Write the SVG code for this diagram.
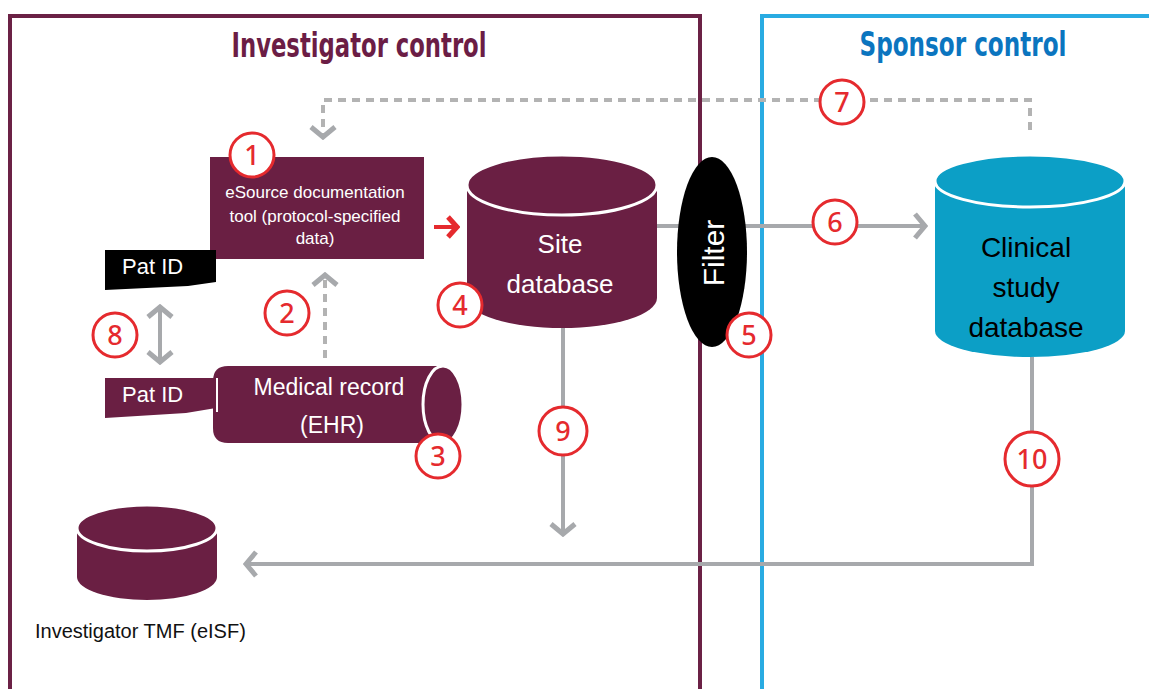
<svg xmlns="http://www.w3.org/2000/svg" width="1149" height="689" viewBox="0 0 1149 689">
<defs>
<style>
.plum{fill:#6a1f43}
.wtxt{fill:#ffffff;font-family:"Liberation Sans",Arial,sans-serif}
.conn{fill:none;stroke:#a7a9ac;stroke-width:4}
.dash{fill:none;stroke:#b3b3b3;stroke-width:4;stroke-dasharray:8 6}
.badge circle{fill:#ffffff;stroke:#e52a2e;stroke-width:3}
.badge text{fill:#e52a2e;font-family:"Noto Sans","DejaVu Sans",sans-serif;font-size:27px;font-weight:500;text-anchor:middle}
.title{font-family:"Liberation Sans Narrow","DejaVu Sans Condensed","Liberation Sans",sans-serif;font-weight:bold;font-size:34px;text-anchor:middle}
</style>
<marker id="chev" viewBox="-14 -14 16 28" markerWidth="16" markerHeight="28" refX="0" refY="0" orient="auto-start-reverse" markerUnits="userSpaceOnUse">
<path d="M-11,-12 L-1,0 L-11,12" fill="none" stroke="#a7a9ac" stroke-width="5" stroke-dasharray="none"/>
</marker>
<marker id="chevred" viewBox="-14 -14 16 28" markerWidth="16" markerHeight="28" refX="0" refY="0" orient="auto" markerUnits="userSpaceOnUse">
<path d="M-10,-10 L-1,0 L-10,10" fill="none" stroke="#e52a2e" stroke-width="5"/>
</marker>
</defs>
<rect width="1149" height="689" fill="#ffffff"/>

<g id="investigator-control">
<rect x="10" y="16" width="690" height="690" fill="none" stroke="#6b2145" stroke-width="4"/>
<text class="title" x="359" y="57" fill="#6b1d45" textLength="255" lengthAdjust="spacingAndGlyphs">Investigator control</text>
</g>
<g id="sponsor-control">
<rect x="762" y="16" width="420" height="690" fill="none" stroke="#29abe2" stroke-width="4"/>
<text class="title" x="963" y="56" fill="#0b75bf" textLength="207" lengthAdjust="spacingAndGlyphs">Sponsor control</text>
</g>

<g id="connectors">
<path class="dash" d="M1030,130 V100 H323 V138" marker-end="url(#chev)"/>
<path class="dash" d="M325,358 V274" marker-end="url(#chev)"/>
<path class="conn" d="M657,226 H926" marker-end="url(#chev)"/>
<path class="conn" d="M563,328 V535" marker-end="url(#chev)"/>
<path class="conn" d="M1032,357 V564 H245" marker-end="url(#chev)"/>
<path class="conn" d="M160,306 V363" marker-start="url(#chev)" marker-end="url(#chev)"/>
<path d="M434,227 H458" fill="none" stroke="#e52a2e" stroke-width="4" marker-end="url(#chevred)"/>
</g>

<g id="esource">
<rect class="plum" x="210" y="157" width="214" height="102"/>
<text class="wtxt" font-size="17" text-anchor="middle"><tspan x="315" y="198">eSource documentation</tspan><tspan x="315" y="222">tool (protocol-specified</tspan><tspan x="315" y="244">data)</tspan></text>
</g>

<g id="site-database">
<path class="plum" d="M467,185 V298 A95,30 0 0 0 657,298 V185 Z"/>
<ellipse class="plum" cx="562" cy="185" rx="95" ry="30" stroke="#ffffff" stroke-width="3"/>
<text class="wtxt" font-size="26" text-anchor="middle"><tspan x="560" y="253">Site</tspan><tspan x="560" y="293">database</tspan></text>
</g>

<g id="filter">
<ellipse cx="712" cy="252" rx="35" ry="95" fill="#000000"/>
<text class="wtxt" font-size="30" text-anchor="middle" transform="translate(724,253) rotate(-90)" x="0" y="0">Filter</text>
</g>

<g id="clinical-database">
<path d="M935,181 V331 A95,26 0 0 0 1125,331 V181 Z" fill="#0c9fc6"/>
<ellipse cx="1030" cy="181" rx="95" ry="26" fill="#0c9fc6" stroke="#ffffff" stroke-width="3"/>
<text font-family="Liberation Sans,Arial,sans-serif" font-size="28" fill="#000000" text-anchor="middle"><tspan x="1026" y="257">Clinical</tspan><tspan x="1026" y="297">study</tspan><tspan x="1026" y="337">database</tspan></text>
</g>

<g id="pat-id-top">
<path d="M105,250 H216 V282 L188,286 L105,290 Z" fill="#000000"/>
<text class="wtxt" font-size="22" x="122" y="274">Pat ID</text>
</g>

<g id="pat-id-bottom">
<path class="plum" d="M105,378 H216 V408 L186,413 L105,418 Z"/>
<text class="wtxt" font-size="22" x="122" y="402">Pat ID</text>
</g>

<g id="medical-record">
<path class="plum" d="M443,366 H228 Q213,366 213,381 V428 Q213,443 228,443 H443 Z"/>
<ellipse class="plum" cx="443" cy="404.5" rx="20" ry="38.5" stroke="#ffffff" stroke-width="3"/>
<line x1="217" y1="378" x2="217" y2="412" stroke="#ffffff" stroke-width="2"/>
<text class="wtxt" font-size="23" text-anchor="middle"><tspan x="329" y="395">Medical record</tspan><tspan x="332" y="433">(EHR)</tspan></text>
</g>

<g id="investigator-tmf">
<path class="plum" d="M77,528 V577 A70,23 0 0 0 217,577 V528 Z"/>
<ellipse class="plum" cx="147" cy="528" rx="70" ry="23" stroke="#ffffff" stroke-width="3"/>
<text font-family="Liberation Sans,Arial,sans-serif" font-size="20" fill="#111111" x="35" y="638">Investigator TMF (eISF)</text>
</g>

<g id="badge-1" class="badge"><circle cx="252" cy="155" r="22"/><text x="252" y="165">1</text></g>
<g id="badge-2" class="badge"><circle cx="287" cy="313" r="22"/><text x="287" y="323">2</text></g>
<g id="badge-3" class="badge"><circle cx="438" cy="456" r="22"/><text x="438" y="466">3</text></g>
<g id="badge-4" class="badge"><circle cx="460" cy="305" r="22"/><text x="460" y="315">4</text></g>
<g id="badge-5" class="badge"><circle cx="749" cy="335" r="22"/><text x="749" y="345">5</text></g>
<g id="badge-6" class="badge"><circle cx="835" cy="222" r="22"/><text x="835" y="232">6</text></g>
<g id="badge-7" class="badge"><circle cx="842" cy="102" r="22"/><text x="842" y="112">7</text></g>
<g id="badge-8" class="badge"><circle cx="115" cy="335" r="22"/><text x="115" y="345">8</text></g>
<g id="badge-9" class="badge"><circle cx="563" cy="431" r="24"/><text x="563" y="441">9</text></g>
<g id="badge-10" class="badge"><circle cx="1032" cy="459" r="27"/><text x="1032" y="469">10</text></g>
</svg>
